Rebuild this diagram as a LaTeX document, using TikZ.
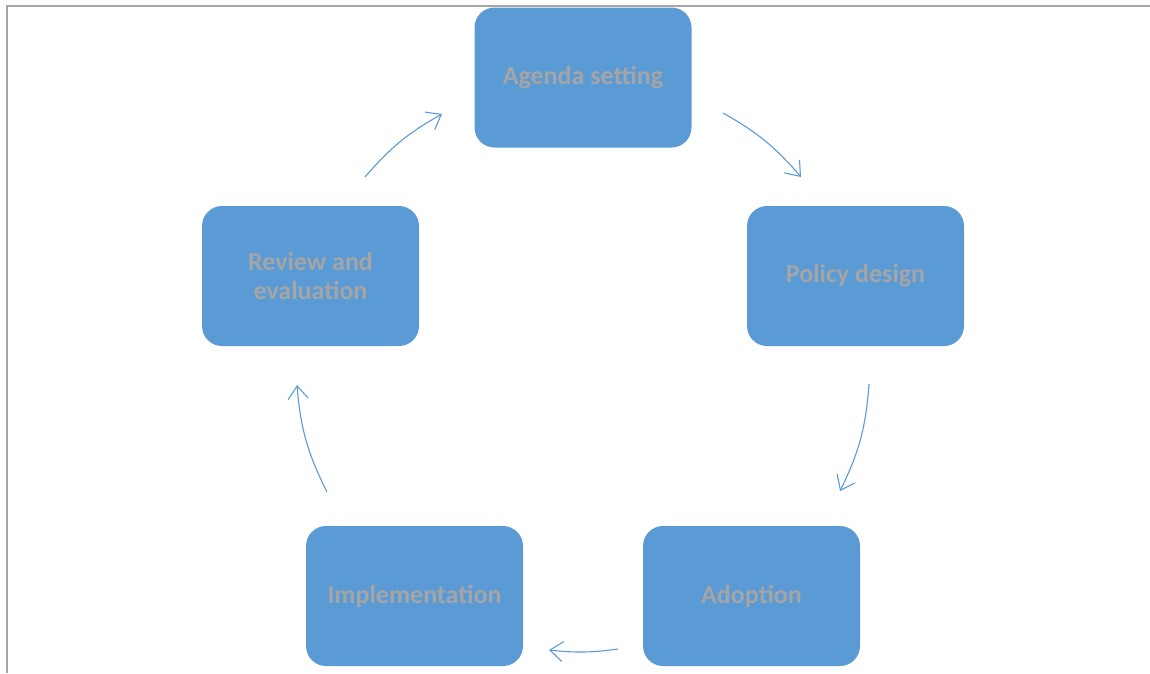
\documentclass[tikz,border=0pt]{standalone}
\usepackage{fontspec}
\setmainfont{Carlito}
\usetikzlibrary{arrows.meta}
\definecolor{boxblue}{HTML}{5B9BD5}
\definecolor{txtgray}{HTML}{A5A5A5}
\definecolor{framegray}{HTML}{A6A6A6}
\tikzset{
  stagebox/.style={fill=boxblue, draw=none, rounded corners=20pt, minimum width=217pt, minimum height=140pt, inner sep=0pt, align=center, text=txtgray, font=\fontsize{26}{29}\selectfont\bfseries},
  cyclearrow/.style={draw=boxblue, line width=1.1pt, -{Straight Barb[length=13pt,width=20pt,line width=1.1pt]}},
  framerule/.style={draw=framegray, line width=1.6pt}
}
\begin{document}
\begin{tikzpicture}[x=1pt,y=1pt]
\useasboundingbox (0,0) rectangle (1150,-673);
\coordinate (ftr) at (1150,-6);
\coordinate (ftl) at (7,-6);
\coordinate (fbl) at (7,-673);
\draw[framerule] (ftr) -- (ftl) -- (fbl);

\node[stagebox] (agenda) at (583,-77.5) {Agenda setting};
\node[stagebox] (policy) at (855.5,-276) {Policy design};
\node[stagebox] (review) at (310.5,-276) {Review and\\evaluation};
\node[stagebox] (adoption) at (751.5,-596) {Adoption};
\node[stagebox] (impl) at (414.5,-596) {Implementation};

\coordinate (a1s) at (723,-113);
\coordinate (a1e) at (801,-177);
\coordinate (a2s) at (869,-384);
\coordinate (a2e) at (840,-491);
\coordinate (a3s) at (618,-649);
\coordinate (a3e) at (549,-650);
\coordinate (a4s) at (327,-492);
\coordinate (a4e) at (297,-385);
\coordinate (a5s) at (365,-177);
\coordinate (a5e) at (442,-114);

\draw[cyclearrow] (a1s) to[bend left=10] (a1e);
\draw[cyclearrow] (a2s) to[bend left=11] (a2e);
\draw[cyclearrow] (a3s) to[bend left=7] (a3e);
\draw[cyclearrow] (a4s) to[bend left=11] (a4e);
\draw[cyclearrow] (a5s) to[bend left=10] (a5e);
\end{tikzpicture}
\end{document}
